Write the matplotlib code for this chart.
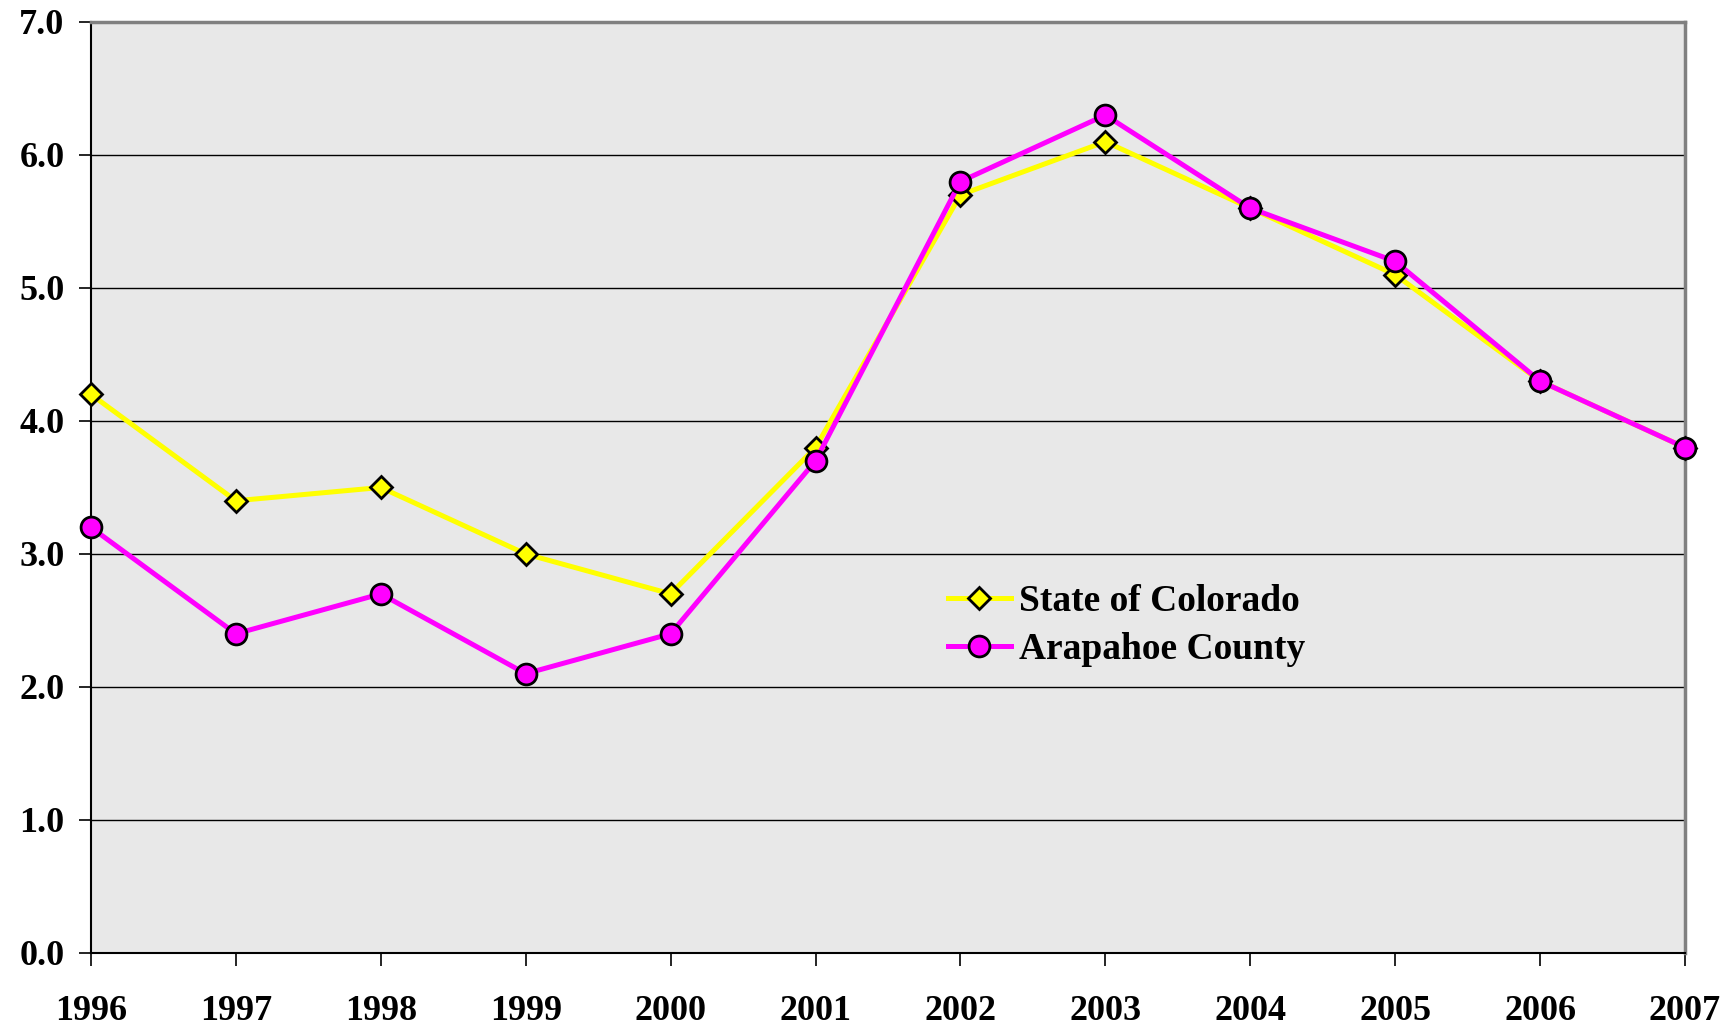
import matplotlib
matplotlib.use('Agg')
import matplotlib.pyplot as plt

years = [1996, 1997, 1998, 1999, 2000, 2001, 2002, 2003, 2004, 2005, 2006, 2007]
colorado = [4.2, 3.4, 3.5, 3.0, 2.7, 3.8, 5.7, 6.1, 5.6, 5.1, 4.3, 3.8]
arapahoe = [3.2, 2.4, 2.7, 2.1, 2.4, 3.7, 5.8, 6.3, 5.6, 5.2, 4.3, 3.8]
yticks = [0, 1, 2, 3, 4, 5, 6, 7]

plt.rcParams['font.family'] = ['Liberation Serif', 'DejaVu Serif']
plt.rcParams['font.weight'] = 'bold'

fig = plt.figure(figsize=(17.36, 10.27), dpi=100)
ax = fig.add_axes([0.0524, 0.0721, 0.9182, 0.9065])
ax.set_facecolor('#e8e8e8')

for y in yticks[1:]:
    ax.axhline(y, color='black', lw=1.0, zorder=1)

ax.plot(years, colorado, color='#ffff00', lw=3.6, marker='D', ms=11,
        mfc='#ffff00', mec='black', mew=2, label='State of Colorado',
        clip_on=False, zorder=3)
ax.plot(years, arapahoe, color='#ff00ff', lw=3.6, marker='o', ms=15,
        mfc='#ff00ff', mec='black', mew=2, label='Arapahoe County',
        clip_on=False, zorder=4)

ax.set_xlim(1996, 2007)
ax.set_ylim(0, 7)
ax.set_xticks(years)
ax.set_xticklabels([str(y) for y in years])
ax.set_yticks(yticks)
ax.set_yticklabels([f'{y:.1f}' for y in yticks])

ax.tick_params(axis='both', direction='out', length=9, width=1.2,
               labelsize=26, colors='black')
ax.tick_params(axis='x', pad=21)
ax.tick_params(axis='y', pad=10)
for lbl in ax.get_xticklabels() + ax.get_yticklabels():
    lbl.set_fontweight('bold')

ax.spines['left'].set_color('black')
ax.spines['bottom'].set_color('black')
ax.spines['left'].set_linewidth(1.5)
ax.spines['bottom'].set_linewidth(1.5)
ax.spines['top'].set_color('#808080')
ax.spines['right'].set_color('#808080')
ax.spines['top'].set_linewidth(2.5)
ax.spines['right'].set_linewidth(2.5)

leg = ax.legend(loc='center left', bbox_to_anchor=(0.528, 0.352), frameon=False,
                prop={'size': 27, 'weight': 'bold'}, handlelength=1.7,
                handletextpad=0.2, labelspacing=0.35, borderaxespad=0)

fig.savefig('out.png', dpi=100)
